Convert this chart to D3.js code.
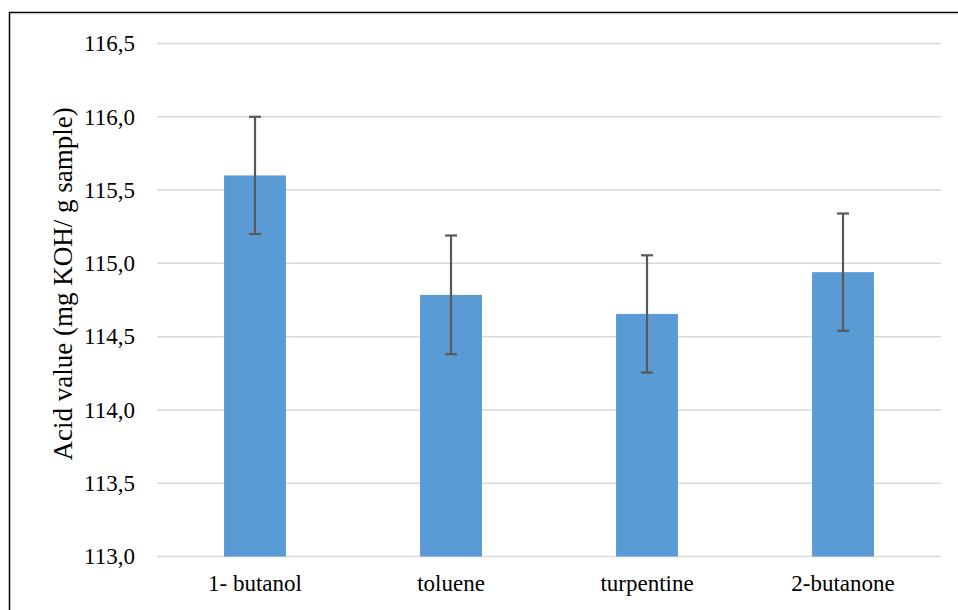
<!DOCTYPE html>
<html><head><meta charset="utf-8">
<script src="https://cdn.jsdelivr.net/npm/d3@7"></script>
<style>body{margin:0;background:#fff}svg{display:block}</style>
</head><body>
<script>
const categories = ["1- butanol", "toluene", "turpentine", "2-butanone"];
const values = [115.6, 114.785, 114.655, 114.94];
const errors = [0.4, 0.405, 0.4, 0.4];
const yTicks = [113.0, 113.5, 114.0, 114.5, 115.0, 115.5, 116.0, 116.5];
const yTitle = "Acid value (mg KOH/ g sample)";

const FONT = '"Liberation Serif"';
const W = 958, H = 610;
const svg = d3.select("body").append("svg").attr("width", W).attr("height", H);

// frame
svg.append("line").attr("x1", 9).attr("x2", W).attr("y1", 12.5).attr("y2", 12.5).attr("stroke", "#000").attr("stroke-width", 1.5);
svg.append("line").attr("x1", 9).attr("x2", W).attr("y1", 14).attr("y2", 14).attr("stroke", "#ddd").attr("stroke-width", 1);
svg.append("line").attr("x1", 9.5).attr("x2", 9.5).attr("y1", 12).attr("y2", H).attr("stroke", "#000").attr("stroke-width", 1.5);

const x = d3.scaleBand().domain(categories).range([157, 941]).paddingInner(0.684).paddingOuter(0.342);
const y = d3.scaleLinear().domain([113, 116.5]).range([556.5, 43.5]);

const fmt = d => d.toFixed(1).replace(".", ",");

// grid
yTicks.forEach(t => {
  svg.append("line")
    .attr("x1", 157).attr("x2", 941)
    .attr("y1", y(t)).attr("y2", y(t))
    .attr("stroke", "#d9d9d9").attr("stroke-width", 1.5);
});

// y labels (appended directly to svg, like the title)
yTicks.forEach(t => {
  svg.append("text")
    .attr("transform", `translate(135,${y(t) + 7.8})`)
    .attr("text-anchor", "end")
    .style("font-family", FONT)
    .style("font-size", "23px")
    .attr("fill", "#000")
    .text(fmt(t));
});

// bars
values.forEach((v, i) => {
  svg.append("rect")
    .attr("x", x(categories[i]))
    .attr("width", x.bandwidth())
    .attr("y", y(v))
    .attr("height", y(113) - y(v))
    .attr("fill", "#5b9bd5");
});

// error bars
values.forEach((v, i) => {
  const cx = x(categories[i]) + x.bandwidth() / 2;
  const top = y(v + errors[i]), bot = y(v - errors[i]);
  [[cx, top, cx, bot], [cx - 6, top, cx + 6, top], [cx - 6, bot, cx + 6, bot]].forEach(s => {
    svg.append("line").attr("x1", s[0]).attr("y1", s[1]).attr("x2", s[2]).attr("y2", s[3])
      .attr("stroke", "#595959").attr("stroke-width", 2.2);
  });
});

// x labels
categories.forEach(c => {
  svg.append("text")
    .attr("transform", `translate(${x(c) + x.bandwidth() / 2},591)`)
    .attr("text-anchor", "middle")
    .style("font-family", FONT)
    .style("font-size", "23px")
    .attr("fill", "#000")
    .text(c);
});

// y title
svg.append("text")
  .attr("transform", `translate(72,${y(114.86)}) rotate(-90)`)
  .attr("text-anchor", "middle")
  .style("font-family", FONT)
  .style("font-size", "27px")
  .attr("fill", "#000")
  .text(yTitle);
</script>
</body></html>
